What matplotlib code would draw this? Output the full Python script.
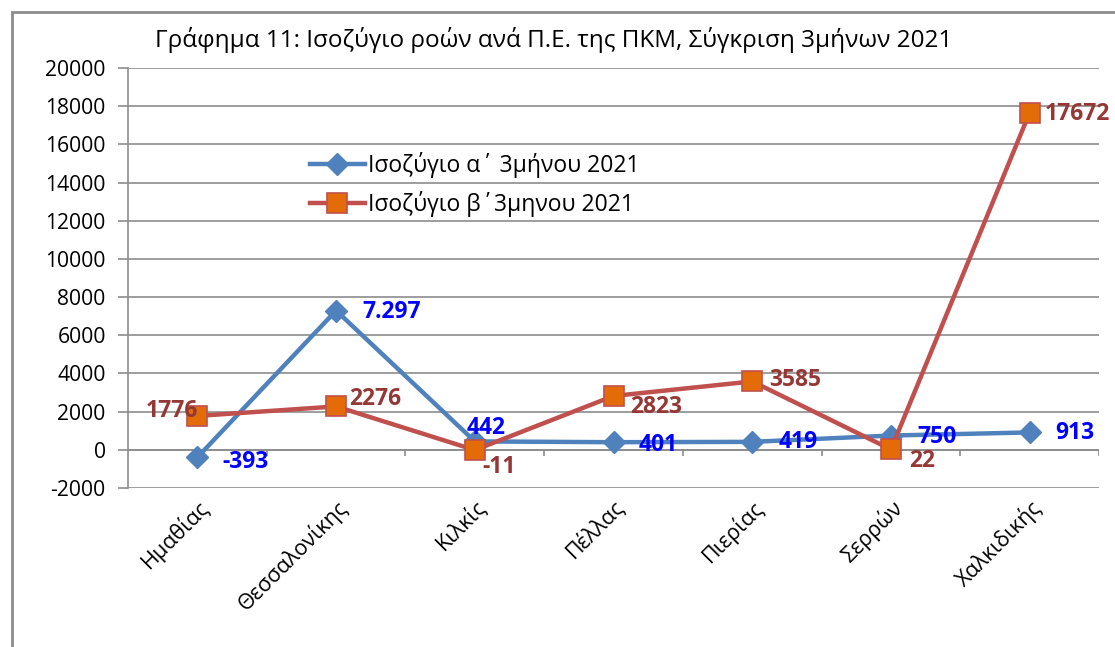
import matplotlib
matplotlib.use("Agg")
import matplotlib.pyplot as plt
from matplotlib.patches import Rectangle

plt.rcParams['font.family'] = ['Open Sans', 'DejaVu Sans']

regions = ['Ημαθίας', 'Θεσσαλονίκης', 'Κιλκίς', 'Πέλλας', 'Πιερίας', 'Σερρών', 'Χαλκιδικής']
q1 = [-393, 7297, 442, 401, 419, 750, 913]
q2 = [1776, 2276, -11, 2823, 3585, 22, 17672]
q1_labels = ['-393', '7.297', '442', '401', '419', '750', '913']
q2_labels = ['1776', '2276', '-11', '2823', '3585', '22', '17672']
yticks = list(range(-2000, 20001, 2000))

fig = plt.figure(figsize=(11.15, 6.47), dpi=100)
ax = fig.add_axes([0.1148, 0.2457, 0.8709, 0.6491])

x = list(range(len(regions)))
ax.plot(x, q1, color='#4F81BD', lw=3.2, marker='D', ms=11,
        mfc='#4F81BD', mec='#4F81BD', label='Ισοζύγιο α΄ 3μήνου 2021', zorder=3)
ax.plot(x, q2, color='#C0504D', lw=3.2, marker='s', ms=14,
        mfc='#E36C09', mec='#C0504D', mew=1.2, label='Ισοζύγιο β΄3μηνου 2021', zorder=4)

# data labels (offsets in pixels)
q1_off = [(25, -5), (26, -1), (-8, 13), (25, -3), (26, 0), (26, -1), (26, -1)]
q2_off = [(-52, 5), (13, 7), (8, -17), (17, -11), (17, 1), (18, -12), (15, -1)]
for i in x:
    ax.annotate(q1_labels[i], (i, q1[i]), xytext=q1_off[i], textcoords='offset pixels',
                ha='left', va='center', color='#0000FF', fontsize=16.5, fontweight='bold', zorder=5)
    ax.annotate(q2_labels[i], (i, q2[i]), xytext=q2_off[i], textcoords='offset pixels',
                ha='left', va='center', color='#953735', fontsize=16.5, fontweight='bold', zorder=5)

ax.set_xlim(-0.5, len(regions) - 0.5)
ax.set_ylim(-2000, 20000)
ax.set_yticks(yticks)
ax.set_yticklabels([str(v) for v in yticks], fontsize=15.2)
ax.yaxis.grid(True, color='#8C8C8C', lw=1.2)
ax.set_axisbelow(True)
ax.tick_params(axis='y', length=7, color='#8C8C8C', width=1.2, pad=9)

ax.set_xticks(x)
ax.set_xticklabels(regions, rotation=45, ha='right', va='top', rotation_mode='anchor', fontsize=15.5)
ax.tick_params(axis='x', length=0, pad=6)

# category axis at zero with tick marks between categories
ax.axhline(0, color='#8C8C8C', lw=1.2, zorder=1)
ax.vlines([i + 0.5 for i in x], -330, 0, color='#8C8C8C', lw=1.2, zorder=1)

for side in ['top', 'right', 'bottom']:
    ax.spines[side].set_visible(False)
ax.spines['left'].set_color('#8C8C8C')
ax.spines['left'].set_linewidth(1.2)

ax.legend(loc='upper left', bbox_to_anchor=(0.166, 0.85), frameon=False, fontsize=16.5,
          handlelength=2.4, labelspacing=0.6, handletextpad=0.15)

fig.text(0.497, 0.938, 'Γράφημα 11: Ισοζύγιο ροών ανά Π.Ε. της ΠΚΜ, Σύγκριση 3μήνων 2021',
         ha='center', va='center', fontsize=17.5)

fig.patches.append(Rectangle((12 / 1115, -0.1), 1.2, 1 - 12 / 647 + 0.1, transform=fig.transFigure,
                             fill=False, edgecolor='#8C8C8C', lw=2))

fig.savefig('out.png', dpi=100)
